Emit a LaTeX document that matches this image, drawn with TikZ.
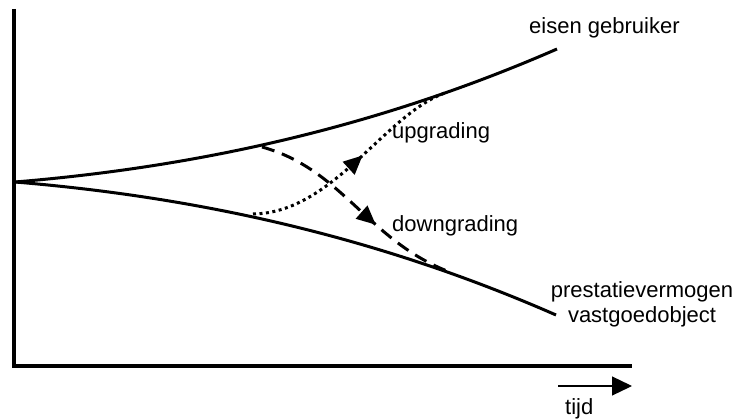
\documentclass[tikz,border=0pt]{standalone}
\usepackage{fontspec}
\setmainfont{Liberation Sans}
\usetikzlibrary{arrows.meta,decorations.markings}

\begin{document}
\begin{tikzpicture}[x=1pt,y=-1pt,
  every node/.style={font=\fontsize{22}{25}\selectfont,inner sep=0pt},
  axis/.style={line width=4pt},
  curve/.style={line width=3pt},
  midarrow/.style={postaction={decorate},decoration={markings,
    mark=at position #1 with {\arrow{Triangle[length=19pt,width=17pt]}}}},
  downgr/.style={line width=3pt,dash pattern=on 13pt off 8pt,midarrow=0.62},
  upgr/.style={line width=3pt,dash pattern=on 3pt off 3.5pt,midarrow=0.55}]
  \useasboundingbox (0,0) rectangle (738,419);
  \coordinate (O) at (15,182);
  \coordinate (E) at (557,49);
  \coordinate (P) at (556,315);
  \coordinate (ds) at (262,147);
  \coordinate (de) at (447,271);
  \coordinate (us) at (253,214);
  \coordinate (ue) at (445,93);
  \coordinate (t1) at (558,386);
  \coordinate (t2) at (632,386);
  % axes
  \draw[axis] (14,9)--(14,366)--(632,366);
  % eisen and prestatie
  \draw[curve] (O) .. controls (196,167) and (376,128) .. (E);
  \draw[curve] (O) .. controls (196,197) and (376,236) .. (P);
  % up- and downgrading
  \draw[downgr] (ds) .. controls (342,169) and (367,239) .. (de);
  \draw[upgr] (us) .. controls (333,213) and (385,114) .. (ue);
  \draw[line width=1.2pt,-{Triangle[length=20pt,width=19pt]}] (t1)--(t2);
  \node (eisen) at (529,34) [anchor=base west] {eisen gebruiker};
  \node (prest) at (642,304) [align=center] {prestatievermogen\\vastgoedobject};
  \node (up) at (392,139) [anchor=base west] {upgrading};
  \node (down) at (392,232) [anchor=base west] {downgrading};
  \node (tijd) at (565,414) [anchor=base west] {tijd};
\end{tikzpicture}
\end{document}
